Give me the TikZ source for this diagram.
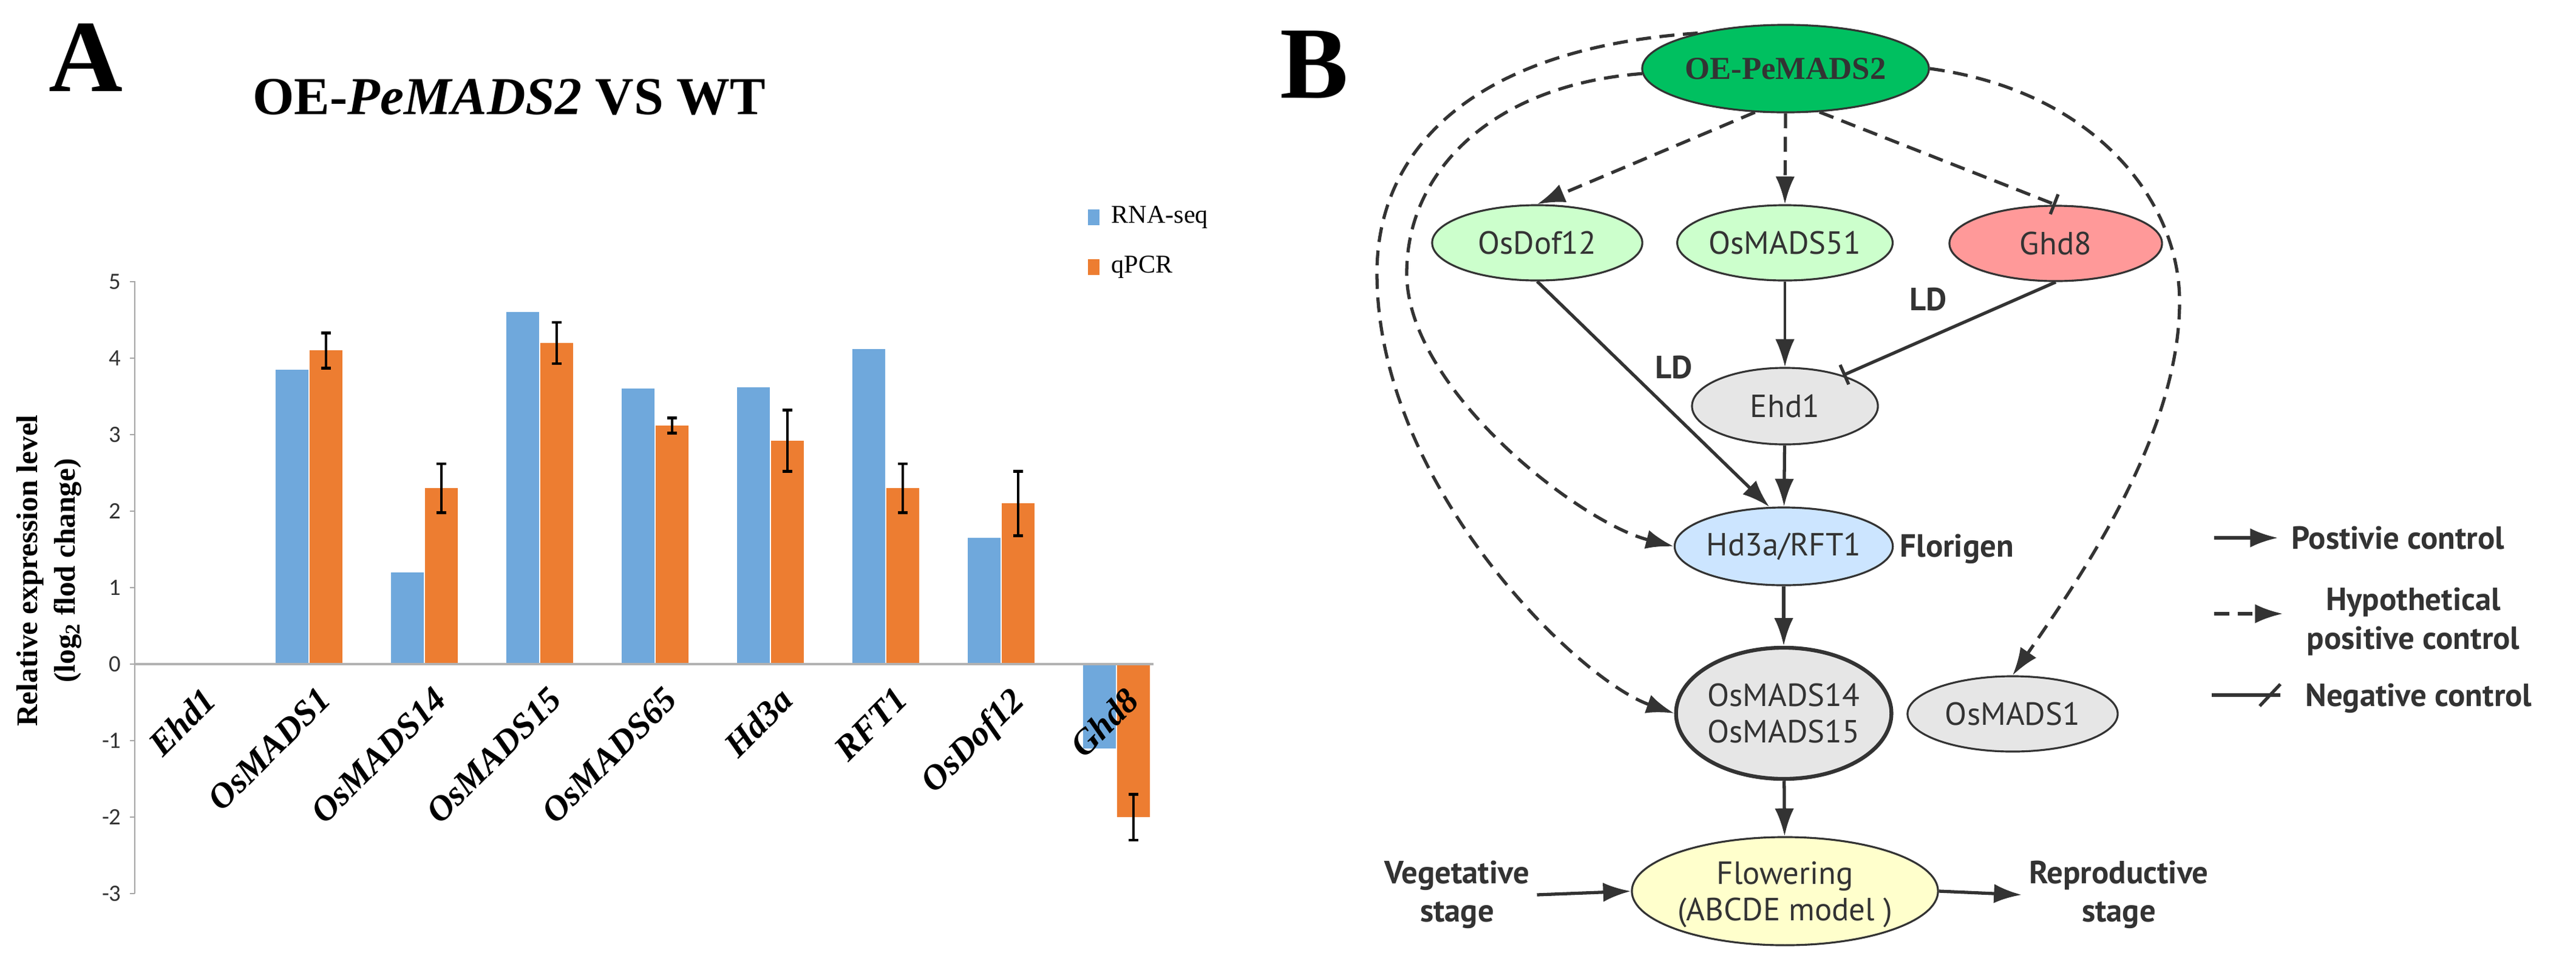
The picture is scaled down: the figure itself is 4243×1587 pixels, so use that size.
\documentclass[tikz,border=0pt]{standalone}
\usepackage{fontspec}
\setmainfont{Liberation Serif}
\newfontfamily\nsans{PT Sans}
\newfontfamily\tsans{Carlito}
\usetikzlibrary{arrows.meta,shapes.geometric}
\definecolor{rnab}{HTML}{6FA8DC}
\definecolor{qpo}{HTML}{ED7D31}
\definecolor{edge}{HTML}{333333}
\definecolor{oeg}{HTML}{00C060}
\definecolor{lgreen}{HTML}{CCFFCC}
\definecolor{lred}{HTML}{FF9999}
\definecolor{lgray}{HTML}{E6E6E6}
\definecolor{lblue}{HTML}{CCE5FF}
\definecolor{lyel}{HTML}{FFFFCC}
\tikzset{
  ell/.style={ellipse,draw=edge,line width=0.9pt,inner sep=0pt,font=\nsans\fontsize{15}{17}\selectfont,text=edge,align=center},
  conn/.style={draw=edge,line width=1.5pt,-{Latex[length=13pt,width=9pt]}},
  dconn/.style={conn,dash pattern=on 7pt off 4pt},
  neg/.style={draw=edge,line width=1.5pt,-{Bar[width=10pt]}},
  blab/.style={font=\nsans\bfseries\fontsize{15}{18}\selectfont,text=edge},
  tick/.style={font=\tsans\fontsize{11}{13}\selectfont,text=black!80,anchor=east},
  glab/.style={font=\bfseries\itshape\fontsize{16.5}{18}\selectfont,rotate=45,anchor=north east,inner sep=0pt}
}
\begin{document}
\begin{tikzpicture}[x=0.01cm,y=-0.01cm]
\useasboundingbox (0,0) rectangle (4243,1587);
% ---------- Panel A ----------
\node[font=\bfseries\fontsize{48}{50}\selectfont,anchor=north west,inner sep=0pt] (A) at (80,38) {A};
\node[font=\bfseries\fontsize{25}{28}\selectfont] (title) at (839,160) {OE-\textit{PeMADS2} VS WT};
% axes
\draw[black!35,line width=0.8pt] (222,463) -- (222,1472);
\foreach \v in {-3,...,5}{
  \draw[black!35,line width=0.8pt] (214,{1094-126*\v}) -- (222,{1094-126*\v});
  \node[tick] (t\v) at (212,{1094-126*\v}) {\v};
}
% bars
\foreach \i/\r/\q/\e in {0/0/0/0,1/3.85/4.1/0.23,2/1.2/2.3/0.32,3/4.6/4.2/0.27,4/3.6/3.12/0.1,5/3.62/2.92/0.4,6/4.12/2.3/0.32,7/1.65/2.1/0.42,8/-1.1/-2.0/0.3}{
  \pgfmathsetmacro\c{319+190*\i}
  \fill[rnab] ({\c-55},{1094-126*\r}) rectangle ({\c-1},1094);
  \fill[qpo] ({\c+1},{1094-126*\q}) rectangle ({\c+55},1094);
  \draw[black,line width=1.3pt] ({\c+28},{1094-126*(\q+\e)}) -- ({\c+28},{1094-126*(\q-\e)});
  \draw[black,line width=1.3pt] ({\c+20},{1094-126*(\q+\e)}) -- ({\c+36},{1094-126*(\q+\e)});
  \draw[black,line width=1.3pt] ({\c+20},{1094-126*(\q-\e)}) -- ({\c+36},{1094-126*(\q-\e)});
}
\draw[black!30,line width=0.9pt] (222,1094) -- (1900,1094);
\foreach \i/\n in {0/Ehd1,1/OsMADS1,2/OsMADS14,3/OsMADS15,4/OsMADS65,5/Hd3a,6/RFT1,7/OsDof12,8/Ghd8}{
  \pgfmathsetmacro\c{319+190*\i}
  \node[glab] (g\i) at ({\c+12},1128) {\n};
}
\node[rotate=90,font=\bfseries\fontsize{14}{16}\selectfont] (yl1) at (50,940) {Relative expression level};
\node[rotate=90,font=\bfseries\fontsize{14}{16}\selectfont] (yl2) at (112,940) {(log\textsubscript{2} flod change)};
% legend A
\fill[rnab] (1792,345) rectangle (1811,371);
\node[anchor=west,font=\fontsize{12}{14}\selectfont] (lr) at (1818,358) {RNA-seq};
\fill[qpo] (1792,427) rectangle (1811,453);
\node[anchor=west,font=\fontsize{12}{14}\selectfont] (lq) at (1818,440) {qPCR};
% ---------- Panel B ----------
\node[font=\bfseries\fontsize{48}{50}\selectfont,anchor=north west,inner sep=0pt] (B) at (2108,50) {B};
\node[ell,fill=oeg,minimum width=4.72cm,minimum height=1.44cm,font=\bfseries\fontsize{15}{17}\selectfont] (oe) at (2941,113) {OE-PeMADS2};
\node[ell,fill=lgreen,minimum width=3.46cm,minimum height=1.24cm] (dof) at (2532,400) {OsDof12};
\node[ell,fill=lgreen,minimum width=3.48cm,minimum height=1.24cm] (m51) at (2940,400) {OsMADS51};
\node[ell,fill=lred,minimum width=3.50cm,minimum height=1.24cm] (ghd) at (3386,401) {Ghd8};
\node[ell,fill=lgray,minimum width=3.06cm,minimum height=1.26cm] (ehd) at (2940,669) {Ehd1};
\node[ell,fill=lblue,minimum width=3.56cm,minimum height=1.28cm] (hd) at (2938,900) {Hd3a/RFT1};
\node[ell,fill=lgray,line width=1.8pt,minimum width=3.42cm,minimum height=2.16cm] (m14) at (2938,1175) {OsMADS14\\OsMADS15};
\node[ell,fill=lgray,minimum width=3.46cm,minimum height=1.24cm] (m1) at (3315,1176) {OsMADS1};
\node[ell,fill=lyel,minimum width=5.04cm,minimum height=1.78cm,text depth=0pt] (fl) at (2940,1468) {Flowering\\(ABCDE model )};
\node[blab,anchor=west,inner sep=0pt] (flor) at (3129,904) {Florigen};
\node[blab,align=center] (veg) at (2400,1474) {Vegetative\\stage};
\node[blab,align=center] (rep) at (3490,1474) {Reproductive\\stage};
% connectors
\draw[dconn] (oe.235) -- (dof.north);
\draw[dconn] (oe.south) -- (m51.north);
\draw[neg,dash pattern=on 7pt off 4pt] (oe.-52) -- (ghd.north);
\draw[conn,line width=1pt] (m51) -- (ehd);
\draw[neg] (ghd.south) -- (ehd.28) node[pos=0.45,above left=2pt,blab] (ld2) {LD};
\draw[conn] (dof.south) -- (hd.110) node[pos=0.38,right=10pt,blab] (ld1) {LD};
\draw[conn] (ehd) -- (hd);
\draw[conn] (hd) -- (m14);
\draw[conn] (m14) -- (fl);
\draw[dconn] (oe.158) .. controls (2420,80) and (2268,250) .. (2268,450) .. controls (2268,800) and (2600,1120) .. (m14.west);
\draw[dconn] (oe.182) .. controls (2460,140) and (2317,280) .. (2317,450) .. controls (2317,640) and (2600,860) .. (hd.west);
\draw[dconn] (oe.east) .. controls (3450,150) and (3590,330) .. (3590,497) .. controls (3590,720) and (3420,960) .. (m1.north);
\draw[conn] (veg.east) -- (fl.west);
\draw[conn] (fl.east) -- (rep.west);
% legend B
\coordinate (p1) at (3647,886); \coordinate (p2) at (3752,886);
\draw[conn] (p1) -- (p2);
\node[blab,anchor=west] (lp) at (3762,886) {Postivie control};
\coordinate (h1) at (3647,1011); \coordinate (h2) at (3760,1011);
\draw[dconn] (h1) -- (h2);
\node[blab,align=center] (lh) at (3975,1024) {Hypothetical\\positive control};
\coordinate (n1) at (3643,1145); \coordinate (n2) at (3756,1145);
\draw[draw=edge,line width=1.5pt] (n1) -- (n2);
\draw[draw=edge,line width=1.5pt] (3722,1163) -- (3756,1127);
\node[blab,anchor=west] (ln) at (3785,1150) {Negative control};
\end{tikzpicture}
\end{document}
